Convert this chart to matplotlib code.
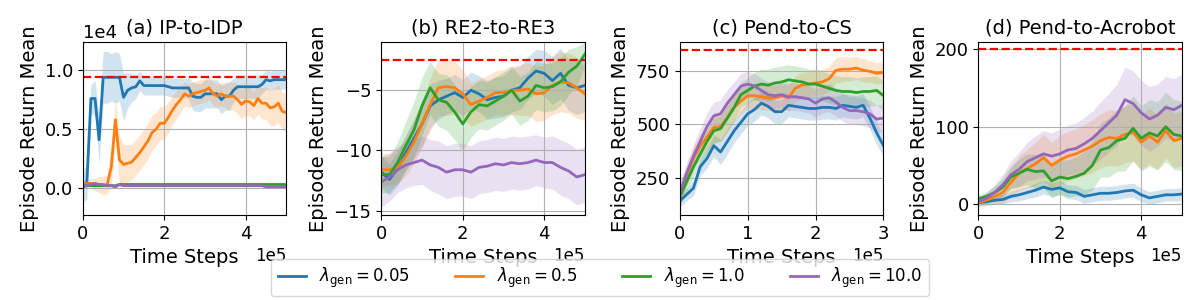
import numpy as np
import matplotlib
matplotlib.use("Agg")
import matplotlib.pyplot as plt

# x grids (time steps)
x_a = np.arange(0, 51) * 1e4
x_b = np.arange(0, 26) * 2e4
x_c = np.arange(0, 31) * 1e4
x_d = np.arange(0, 26) * 2e4

labels = [r'$\lambda_{\mathrm{gen}}=0.05$', r'$\lambda_{\mathrm{gen}}=0.5$',
          r'$\lambda_{\mathrm{gen}}=1.0$', r'$\lambda_{\mathrm{gen}}=10.0$']
colors = ['#1f77b4', '#ff7f0e', '#2ca02c', '#9467bd']
titles = ['(a) IP-to-IDP', '(b) RE2-to-RE3', '(c) Pend-to-CS', '(d) Pend-to-Acrobot']
targets = [9400, -2.5, 850, 200]
ylims = [(-2300, 12400), (-15.36, -1.0), (73, 888), (-14.2, 209.5)]
xlims = [5e5, 5e5, 3e5, 5e5]

# (a) IP-to-IDP  (values in units of 1e4)
a_blue = [0.02, 0.05, 0.76, 0.76, 0.41, 0.94, 0.94, 0.94, 0.94, 0.94,
          0.77, 0.83, 0.85, 0.86, 0.91, 0.87, 0.87, 0.87, 0.87, 0.87,
          0.87, 0.86, 0.85, 0.85, 0.85, 0.85, 0.85, 0.78, 0.77, 0.77,
          0.80, 0.80, 0.80, 0.80, 0.75, 0.78, 0.78, 0.83, 0.86, 0.86,
          0.86, 0.86, 0.86, 0.86, 0.88, 0.92, 0.91, 0.92, 0.92, 0.92, 0.92]
a_blue_sd = [0.13, 0.15, 0.12, 0.15, 0.20, 0.22, 0.22, 0.20, 0.22, 0.20,
             0.20, 0.15, 0.12, 0.10, 0.08, 0.08, 0.08, 0.08, 0.08, 0.08,
             0.08, 0.08, 0.08, 0.08, 0.08, 0.08, 0.09, 0.12, 0.12, 0.12,
             0.12, 0.12, 0.12, 0.12, 0.12, 0.12, 0.12, 0.10, 0.10, 0.10,
             0.10, 0.10, 0.10, 0.10, 0.08, 0.08, 0.08, 0.08, 0.08, 0.08, 0.08]
a_orange = [0.03, 0.04, 0.04, 0.03, 0.03, 0.02, 0.03, 0.18, 0.58, 0.24,
            0.20, 0.21, 0.22, 0.26, 0.30, 0.35, 0.40, 0.47, 0.50, 0.55,
            0.55, 0.60, 0.66, 0.71, 0.75, 0.80, 0.78, 0.80, 0.81, 0.82,
            0.83, 0.85, 0.80, 0.78, 0.80, 0.78, 0.78, 0.78, 0.75, 0.71,
            0.74, 0.73, 0.70, 0.76, 0.72, 0.72, 0.68, 0.69, 0.72, 0.65, 0.64]
a_orange_sd = [0.03, 0.03, 0.04, 0.05, 0.07, 0.08, 0.08, 0.15, 0.18, 0.20,
               0.17, 0.16, 0.15, 0.15, 0.15, 0.15, 0.15, 0.15, 0.14, 0.14,
               0.14, 0.13, 0.12, 0.12, 0.11, 0.10, 0.10, 0.10, 0.10, 0.10,
               0.10, 0.10, 0.10, 0.10, 0.10, 0.10, 0.12, 0.12, 0.12, 0.12,
               0.12, 0.12, 0.12, 0.13, 0.13, 0.14, 0.15, 0.16, 0.16, 0.16, 0.16]
a_green = [0.01, 0.02, 0.02, 0.02, 0.02, 0.02, 0.02, 0.02, 0.02, 0.03,
           0.03, 0.03, 0.03, 0.03, 0.03, 0.03, 0.03, 0.03, 0.03, 0.03,
           0.03, 0.03, 0.03, 0.03, 0.03, 0.03, 0.03, 0.03, 0.03, 0.03,
           0.03, 0.03, 0.03, 0.03, 0.03, 0.03, 0.03, 0.03, 0.03, 0.03,
           0.03, 0.03, 0.03, 0.03, 0.03, 0.03, 0.03, 0.03, 0.03, 0.03, 0.03]
a_green_sd = [0.005] * 51
a_purple = [0.02, 0.02, 0.03, 0.04, 0.03, 0.03, 0.02, 0.02, 0.01, 0.03,
            0.02, 0.02, 0.02, 0.02, 0.02, 0.02, 0.02, 0.02, 0.02, 0.02,
            0.02, 0.02, 0.02, 0.02, 0.02, 0.02, 0.02, 0.02, 0.02, 0.02,
            0.02, 0.02, 0.02, 0.02, 0.02, 0.02, 0.02, 0.02, 0.02, 0.02,
            0.02, 0.02, 0.02, 0.02, 0.02, 0.01, 0.01, 0.01, 0.01, 0.01, 0.01]
a_purple_sd = [0.01] * 51

# (b) RE2-to-RE3
b_blue = [-11.8, -12.4, -11.5, -10.2, -9.0, -7.8, -6.3, -5.8, -5.5, -5.2,
          -5.6, -5.0, -5.3, -5.8, -5.6, -5.5, -5.0, -4.8, -4.0, -3.4,
          -3.6, -4.2, -3.6, -4.6, -4.8, -4.6]
b_blue_sd = [1.3, 1.3, 1.4, 1.5, 1.6, 1.8, 1.8, 1.6, 1.5, 1.5,
             1.5, 1.5, 1.5, 1.6, 1.7, 1.7, 1.8, 1.8, 1.8, 1.8,
             1.9, 2.0, 2.1, 2.1, 2.2, 2.2]
b_orange = [-11.6, -11.6, -11.4, -10.5, -9.3, -7.8, -6.2, -4.8, -4.7, -4.8,
            -5.3, -6.2, -5.9, -5.6, -5.2, -5.2, -5.0, -5.0, -4.9, -5.3,
            -5.2, -4.6, -4.3, -4.4, -4.8, -5.3]
b_orange_sd = [1.4, 1.3, 1.4, 1.6, 1.8, 2.0, 2.2, 2.3, 2.4, 2.2,
               2.0, 1.8, 1.8, 1.8, 1.8, 1.9, 2.0, 2.1, 2.2, 2.3,
               2.3, 2.4, 2.5, 2.5, 2.5, 2.2]
b_green = [-12.0, -12.0, -11.0, -9.6, -8.3, -6.3, -4.8, -5.8, -6.0, -6.8,
           -7.8, -6.8, -6.2, -6.3, -5.9, -5.5, -5.0, -5.9, -5.5, -4.6,
           -4.8, -4.7, -4.3, -3.5, -3.0, -2.0]
b_green_sd = [1.5, 1.5, 1.7, 2.0, 2.3, 2.4, 2.2, 2.2, 2.3, 2.3,
              2.2, 2.1, 2.0, 2.0, 2.0, 2.0, 2.0, 2.0, 2.0, 2.0,
              2.0, 2.0, 2.0, 1.9, 1.6, 1.0]
b_purple = [-12.6, -12.2, -11.6, -11.2, -11.0, -10.8, -11.2, -11.4, -11.8, -11.6,
            -11.6, -11.8, -11.4, -11.3, -11.1, -11.2, -11.0, -11.1, -11.0, -10.8,
            -11.0, -11.0, -11.4, -11.7, -12.2, -12.0]
b_purple_sd = [2.1, 2.0, 1.9, 1.9, 1.9, 2.0, 2.1, 2.2, 2.2, 2.2,
               2.2, 2.2, 2.2, 2.2, 2.2, 2.2, 2.2, 2.2, 2.2, 2.1,
               2.1, 2.2, 2.3, 2.3, 2.3, 2.3]

# (c) Pend-to-CS
c_blue = [140, 170, 200, 300, 340, 400, 370, 420, 470, 510,
          550, 570, 600, 585, 560, 560, 590, 585, 580, 575,
          575, 580, 580, 575, 590, 585, 580, 590, 530, 460, 400]
c_blue_sd = [30, 30, 35, 40, 45, 50, 60, 60, 55, 55,
             55, 55, 55, 55, 55, 55, 55, 55, 55, 55,
             55, 55, 55, 55, 55, 55, 55, 55, 55, 55, 50]
c_orange = [170, 260, 340, 400, 440, 485, 490, 530, 580, 610,
            635, 635, 630, 625, 625, 635, 625, 670, 685, 690,
            695, 700, 715, 755, 760, 760, 765, 755, 750, 740, 745]
c_orange_sd = [45, 50, 55, 55, 60, 70, 70, 70, 65, 60,
               60, 60, 60, 60, 60, 60, 60, 60, 60, 60,
               60, 60, 60, 60, 60, 55, 55, 55, 50, 50, 50]
c_green = [160, 230, 300, 360, 420, 470, 480, 530, 580, 640,
           660, 680, 690, 685, 695, 700, 710, 705, 700, 690,
           690, 680, 670, 660, 655, 655, 650, 655, 655, 660, 635]
c_green_sd = [40, 45, 50, 50, 55, 60, 60, 60, 60, 60,
              60, 65, 70, 75, 75, 75, 70, 70, 70, 70,
              70, 70, 70, 70, 70, 70, 70, 70, 70, 70, 70]
c_purple = [180, 270, 350, 420, 490, 540, 550, 600, 640, 680,
            690, 680, 660, 640, 635, 640, 630, 630, 625, 620,
            600, 620, 625, 605, 580, 565, 565, 560, 550, 525, 530]
c_purple_sd = [45, 50, 55, 60, 65, 65, 65, 65, 60, 60,
               60, 60, 60, 60, 60, 60, 65, 65, 65, 65,
               65, 65, 65, 65, 65, 65, 65, 65, 65, 65, 65]

# (d) Pend-to-Acrobot
d_blue = [2, 3, 5, 6, 10, 12, 15, 18, 22, 19,
          21, 16, 15, 10, 12, 14, 14, 15, 17, 18,
          12, 8, 10, 12, 12, 13]
d_blue_sd = [3, 4, 5, 6, 7, 8, 8, 9, 9, 9,
             9, 9, 9, 9, 9, 9, 9, 9, 9, 9,
             9, 8, 8, 8, 8, 8]
d_orange = [2, 5, 10, 15, 28, 40, 46, 52, 60, 50,
            57, 62, 65, 70, 75, 82, 86, 85, 90, 93,
            80, 88, 80, 95, 82, 85]
d_orange_sd = [5, 7, 10, 14, 18, 22, 25, 28, 30, 30,
               32, 32, 32, 33, 34, 35, 36, 36, 37, 37,
               36, 36, 35, 35, 35, 35]
d_green = [7, 10, 15, 22, 35, 40, 45, 42, 43, 30,
           35, 33, 36, 40, 50, 70, 73, 82, 85, 98,
           85, 92, 88, 100, 90, 88]
d_green_sd = [4, 6, 9, 12, 15, 18, 20, 22, 22, 22,
              22, 24, 25, 28, 32, 35, 38, 40, 42, 42,
              42, 43, 44, 45, 45, 45]
d_purple = [3, 8, 15, 25, 38, 45, 55, 60, 65, 62,
            65, 70, 72, 78, 85, 95, 105, 115, 135, 130,
            118, 110, 115, 125, 122, 128]
d_purple_sd = [5, 7, 10, 14, 18, 22, 25, 28, 30, 30,
               32, 32, 33, 34, 35, 37, 38, 40, 42, 42,
               42, 42, 40, 40, 40, 40]

panels = [
    (x_a, [(np.array(a_blue) * 1e4, np.array(a_blue_sd) * 1e4),
           (np.array(a_orange) * 1e4, np.array(a_orange_sd) * 1e4),
           (np.array(a_green) * 1e4, np.array(a_green_sd) * 1e4),
           (np.array(a_purple) * 1e4, np.array(a_purple_sd) * 1e4)]),
    (x_b, [(b_blue, b_blue_sd), (b_orange, b_orange_sd),
           (b_green, b_green_sd), (b_purple, b_purple_sd)]),
    (x_c, [(c_blue, c_blue_sd), (c_orange, c_orange_sd),
           (c_green, c_green_sd), (c_purple, c_purple_sd)]),
    (x_d, [(d_blue, d_blue_sd), (d_orange, d_orange_sd),
           (d_green, d_green_sd), (d_purple, d_purple_sd)]),
]

fig, axes = plt.subplots(1, 4, figsize=(12, 3), dpi=100)
fig.subplots_adjust(left=0.069, right=0.985, top=0.86, bottom=0.283, wspace=0.466)

for i, ax in enumerate(axes):
    x, series = panels[i]
    for k, (m, sd) in enumerate(series):
        m = np.asarray(m, dtype=float)
        sd = np.asarray(sd, dtype=float)
        ax.plot(x, m, color=colors[k], lw=2, label=labels[k])
        ax.fill_between(x, m - sd, m + sd, color=colors[k], alpha=0.2, lw=0)
    ax.axhline(targets[i], color='red', ls='--', lw=1.6)
    ax.set_xlim(0, xlims[i])
    ax.set_ylim(*ylims[i])
    ax.grid(True)
    ax.set_title(titles[i], fontsize=14)
    ax.set_xlabel('Time Steps', fontsize=14)
    ax.set_ylabel('Episode Return Mean', fontsize=14)
    ax.tick_params(labelsize=13)
    ax.ticklabel_format(axis='x', style='sci', scilimits=(0, 0))
    ax.xaxis.get_offset_text().set_fontsize(12)
    ax.yaxis.get_offset_text().set_fontsize(13)

axes[0].ticklabel_format(axis='y', style='sci', scilimits=(0, 0))
axes[0].set_yticks([0, 5000, 10000])
axes[1].set_yticks([-15, -10, -5])
axes[2].set_yticks([250, 500, 750])
axes[3].set_yticks([0, 100, 200])

handles, labs = axes[0].get_legend_handles_labels()
fig.legend(handles, labs, loc='lower center', ncol=4, fontsize=12,
           bbox_to_anchor=(0.5, -0.015), columnspacing=2.7, handlelength=1.7)

fig.savefig('out.png')
